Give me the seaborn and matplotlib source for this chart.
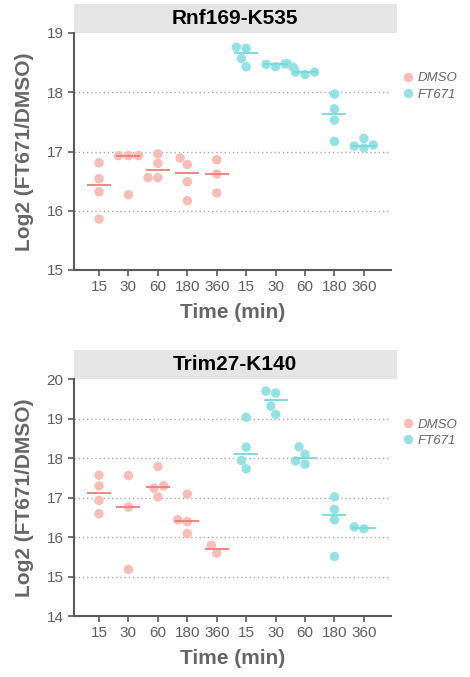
import numpy as np
import pandas as pd
import seaborn as sns
import matplotlib
matplotlib.use("Agg")
import matplotlib.pyplot as plt
from matplotlib.patches import Rectangle

# ---------------- data ----------------
times = ["15", "30", "60", "180", "360"]
treatments = ["DMSO", "FT671"]

rnf169_dmso = [[16.81, 16.54, 16.32, 15.86],
               [16.93, 16.93, 16.93, 16.27],
               [16.96, 16.80, 16.56, 16.56],
               [16.89, 16.78, 16.49, 16.17],
               [16.86, 16.62, 16.30]]
rnf169_ft671 = [[18.76, 18.74, 18.57, 18.43],
                [18.48, 18.47, 18.48, 18.43],
                [18.42, 18.34, 18.34, 18.30],
                [17.97, 17.72, 17.53, 17.17],
                [17.22, 17.11, 17.09, 17.06]]

trim27_dmso = [[17.57, 17.30, 16.93, 16.59],
               [17.56, 16.76, 15.18],
               [17.79, 17.30, 17.24, 17.02],
               [17.09, 16.44, 16.39, 16.09],
               [15.79, 15.59]]
trim27_ft671 = [[19.04, 18.28, 17.94, 17.73],
                [19.70, 19.65, 19.32, 19.11],
                [18.29, 18.10, 17.93, 17.85],
                [17.02, 16.70, 16.44, 15.51],
                [16.26, 16.21]]

titles = ["Rnf169-K535", "Trim27-K140"]
ylims = [(15, 19), (14, 20)]

point_pal = {"DMSO": "#f9bdb8", "FT671": "#95e2e5"}
line_pal = {"DMSO": "#f47c76", "FT671": "#72dade"}

order = [f"{tr} {t}" for tr in treatments for t in times]


def make_df(dmso, ft):
    rows = []
    for tr, arr in zip(treatments, [dmso, ft]):
        for t, vals in zip(times, arr):
            for v in vals:
                rows.append({"group": f"{tr} {t}", "treatment": tr, "value": v})
    return pd.DataFrame(rows)


sns.set_style("ticks")
plt.rcParams["font.family"] = ["Liberation Sans", "DejaVu Sans"]

fig = plt.figure(figsize=(4.7, 6.77), dpi=100)
W, H = 470.0, 677.0
ax_top = fig.add_axes([74 / W, 1 - 270 / H, 317 / W, 237 / H])
ax_bot = fig.add_axes([74 / W, 1 - 616 / H, 317 / W, 236.7 / H])

grey = "#5a5a5a"
for ax, title, (d, f), yl in zip([ax_top, ax_bot], titles,
                                  [(rnf169_dmso, rnf169_ft671), (trim27_dmso, trim27_ft671)],
                                  ylims):
    df = make_df(d, f)
    sns.swarmplot(data=df, x="group", y="value", hue="treatment", order=order,
                  hue_order=treatments, palette=point_pal, size=6.8, linewidth=0,
                  ax=ax, zorder=3)
    sns.pointplot(data=df, x="group", y="value", hue="treatment", order=order,
                  hue_order=treatments, palette=line_pal, estimator="median",
                  errorbar=None, markers="_", linestyles="none", dodge=False,
                  markersize=17, markeredgewidth=1.3, legend=False, ax=ax)
    for ln in ax.lines:
        ln.set_zorder(4)

    ax.set_xlim(-0.85, 9.92)
    ax.set_ylim(*yl)
    ax.set_yticks(range(yl[0], yl[1] + 1))
    ax.set_xticks(range(len(order)))
    ax.set_xticklabels(times * 2)

    ax.yaxis.grid(True, linestyle=(0, (1, 2)), color="#a8a8a8", lw=1.0)
    ax.xaxis.grid(False)
    ax.set_axisbelow(True)
    gl = ax.get_ygridlines()
    gl[0].set_visible(False)
    gl[-1].set_visible(False)

    for s in ["top", "right"]:
        ax.spines[s].set_visible(False)
    for s in ["left", "bottom"]:
        ax.spines[s].set_color(grey)
        ax.spines[s].set_linewidth(1.5)
    ax.tick_params(axis="both", colors=grey, labelcolor="#5f5f5f",
                   labelsize=11, width=1.2, length=4, pad=3.5)

    ax.set_xlabel("Time (min)", fontsize=15, fontweight="bold", color="#666666",
                  labelpad=6)
    ax.set_ylabel("Log2 (FT671/DMSO)", fontsize=15, fontweight="bold",
                  color="#666666")
    ax.yaxis.set_label_coords(-0.125, 0.5)

    # strip header
    ax.add_patch(Rectangle((0, 1), (397 - 74) / 317, 29 / 237, transform=ax.transAxes,
                           clip_on=False, facecolor="#e5e5e5", lw=0, zorder=0))
    ax.text(0.509, 1 + 14.5 / 237, title, transform=ax.transAxes, ha="center",
            va="center", fontsize=15, fontweight="bold", color="black")

    sns.move_legend(ax, "upper left", bbox_to_anchor=(1.033, 0.835), frameon=False,
                    title=None, handlelength=1.0, handletextpad=0.2,
                    labelspacing=0.3, borderpad=0, borderaxespad=0,
                    prop={"style": "italic", "size": 9.5}, labelcolor="#666666")

fig.savefig("out.png", dpi=100)
